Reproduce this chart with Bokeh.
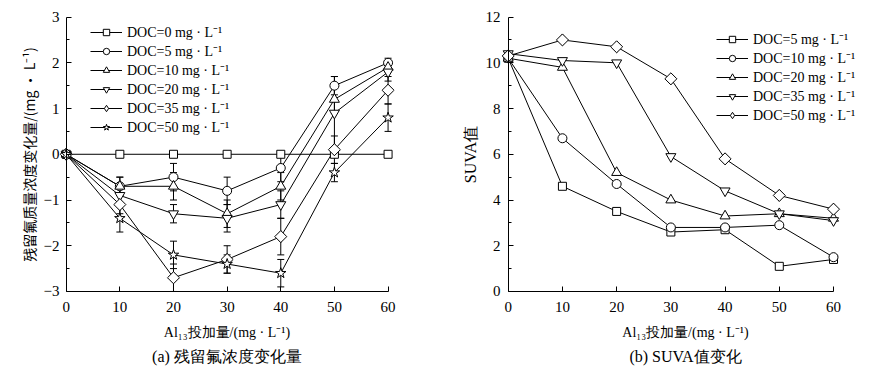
import math
from bokeh.plotting import figure
from bokeh.models import (Range1d, Whisker, ColumnDataSource, Legend, LegendItem,
                          Title, FixedTicker, TeeHead, LinearAxis)
from bokeh.layouts import row
from bokeh.embed import file_html
from bokeh.resources import INLINE

# ---------------- data ----------------
x_dose = [0, 10, 20, 30, 40, 50, 60]

# (a) residual fluoride change
a_labels = ["DOC=0 mg · L⁻¹", "DOC=5 mg · L⁻¹", "DOC=10 mg · L⁻¹",
            "DOC=20 mg · L⁻¹", "DOC=35 mg · L⁻¹", "DOC=50 mg · L⁻¹"]
a_doc0 = [0, 0, 0, 0, 0, 0, 0]
a_doc5 = [0, -0.7, -0.5, -0.8, -0.3, 1.5, 2.0]
a_doc10 = [0, -0.7, -0.7, -1.3, -0.7, 1.2, 1.9]
a_doc20 = [0, -0.9, -1.3, -1.4, -1.1, 0.9, 1.8]
a_doc35 = [0, -1.1, -2.7, -2.3, -1.8, 0.1, 1.4]
a_doc50 = [0, -1.4, -2.2, -2.4, -2.6, -0.4, 0.8]
a_err0 = [0, 0, 0, 0, 0, 0, 0]
a_err5 = [0, 0.2, 0.3, 0.3, 0.3, 0.2, 0.1]
a_err10 = [0, 0.2, 0.3, 0.3, 0.3, 0.3, 0.1]
a_err20 = [0, 0.2, 0.2, 0.3, 0.3, 0.8, 0.2]
a_err35 = [0, 0.2, 0.3, 0.3, 0.4, 0.3, 0.3]
a_err50 = [0, 0.3, 0.3, 0.2, 0.3, 0.2, 0.3]

# (b) SUVA
b_labels = ["DOC=5 mg · L⁻¹", "DOC=10 mg · L⁻¹", "DOC=20 mg · L⁻¹",
            "DOC=35 mg · L⁻¹", "DOC=50 mg · L⁻¹"]
b_doc5 = [10.2, 4.6, 3.5, 2.6, 2.7, 1.1, 1.4]
b_doc10 = [10.2, 6.7, 4.7, 2.8, 2.8, 2.9, 1.5]
b_doc20 = [10.2, 9.8, 5.2, 4.0, 3.3, 3.4, 3.2]
b_doc35 = [10.4, 10.1, 10.0, 5.9, 4.4, 3.4, 3.1]
b_doc50 = [10.3, 11.0, 10.7, 9.3, 5.8, 4.2, 3.6]

a_ticks = [-3, -2, -1, 0, 1, 2, 3]
a_minor = [-2.5, -1.5, -0.5, 0.5, 1.5, 2.5]
b_ticks = [0, 2, 4, 6, 8, 10, 12]
b_minor = [1, 3, 5, 7, 9, 11]

FONT = "Liberation Serif"
CJK = "Noto Sans CJK SC"

markers_a = [("square", 8), ("circle", 9), ("triangle", 10),
             ("inverted_triangle", 10), ("rdiamond", 8.5), ("star", 11)]
markers_b = [("square", 8), ("circle", 9), ("triangle", 10),
             ("inverted_triangle", 10), ("rdiamond", 8.5)]


def minus(v):
    return ("−" + str(abs(v))) if v < 0 else str(v)


def style(p, yticks, yminor, ylabel, ylab_font, ylab_size, ylab_bounds, xlabel,
          caption, ystand, ylabstand):
    p.outline_line_color = None
    p.xgrid.grid_line_color = None
    p.ygrid.grid_line_color = None
    p.background_fill_color = "white"
    p.border_fill_color = "white"
    xa = p.xaxis[0]
    ya = p.yaxis[0]
    # tick-label-only axes at the frame edges
    for ax in (xa, ya):
        ax.axis_line_color = None
        ax.major_tick_line_color = None
        ax.minor_tick_line_color = None
        ax.major_tick_in = 0
        ax.major_tick_out = 0
        ax.minor_tick_in = 0
        ax.minor_tick_out = 0
        ax.major_label_text_font = FONT
        ax.major_label_text_font_size = "15px"
        ax.major_label_text_color = "black"
        ax.axis_label_text_font_style = "normal"
        ax.axis_label_text_color = "black"
    xa.ticker = FixedTicker(ticks=x_dose)
    xa.bounds = (0, 60)
    xa.major_label_standoff = 5
    xa.axis_label = xlabel
    xa.axis_label_text_font = FONT
    xa.axis_label_text_font_size = "14px"
    xa.axis_label_standoff = 10
    ya.ticker = FixedTicker(ticks=yticks)
    ya.bounds = (yticks[0], yticks[-1])
    ya.major_label_standoff = ystand
    ya.major_label_overrides = {t: minus(t) for t in yticks}
    p.add_layout(Title(text=caption, align="center", text_font=FONT,
                       text_font_size="16px", text_font_style="normal",
                       text_color="black", standoff=6), "below")
    # line + tick axes at the true data origin (no labels drawn)
    xl = LinearAxis(ticker=FixedTicker(ticks=x_dose), fixed_location=yticks[0],
                    bounds=(0, 60), major_tick_in=5, major_tick_out=0,
                    minor_tick_line_color=None, major_label_text_color=None,
                    major_label_text_font_size="1px",
                    major_label_standoff=0, axis_line_color="black",
                    major_tick_line_color="black")
    yl = LinearAxis(ticker=FixedTicker(ticks=yticks, minor_ticks=yminor),
                    fixed_location=0, bounds=(yticks[0], yticks[-1]),
                    major_tick_in=5, major_tick_out=0, minor_tick_in=3,
                    minor_tick_out=0, major_label_text_color=None,
                    major_label_text_font_size="1px",
                    major_label_standoff=0, axis_line_color="black",
                    major_tick_line_color="black", minor_tick_line_color="black")
    p.add_layout(xl, "below")
    p.add_layout(yl, "left")
    # y-axis title carried by its own (otherwise empty) axis
    yt = LinearAxis(ticker=FixedTicker(ticks=[]), bounds=ylab_bounds,
                    axis_line_color=None, major_tick_line_color=None,
                    minor_tick_line_color=None, major_tick_in=0, major_tick_out=0,
                    minor_tick_in=0, minor_tick_out=0, major_label_standoff=0,
                    major_label_text_font_size="1px", major_label_text_color=None,
                    axis_label=ylabel, axis_label_text_font=ylab_font,
                    axis_label_text_font_size=ylab_size,
                    axis_label_text_font_style="normal",
                    axis_label_text_color="black",
                    axis_label_standoff=ylabstand)
    p.add_layout(yt, "left")


def draw(p, ys, errs, markers, labels):
    items = []
    if errs is not None:
        for y, e in zip(ys, errs):
            lo = [a - b for a, b in zip(y, e)]
            hi = [a + b for a, b in zip(y, e)]
            src = ColumnDataSource(dict(x=x_dose, lo=lo, hi=hi))
            w = Whisker(base="x", lower="lo", upper="hi", source=src,
                        line_color="black", line_width=1,
                        lower_head=TeeHead(size=7, line_color="black", line_width=1),
                        upper_head=TeeHead(size=7, line_color="black", line_width=1))
            p.add_layout(w)
    lines = []
    for y in ys:
        lines.append(p.line(x_dose, y, line_color="black", line_width=1))
    for y, (m, s), lab, lr in zip(ys, markers, labels, lines):
        if m == "rdiamond":
            # diamond used for the legend key, covered by a rotated square in the plot
            sr = p.scatter(x_dose, y, marker="diamond", size=s * 1.35,
                           fill_color="white", line_color="black", line_width=1)
            p.scatter(x_dose, y, marker="square", size=s, angle=math.pi / 4,
                      fill_color="white", line_color="black", line_width=1)
        else:
            sr = p.scatter(x_dose, y, marker=m, size=s, fill_color="white",
                           line_color="black", line_width=1)
        items.append(LegendItem(label=lab, renderers=[lr, sr]))
    return items


def legend(items, loc):
    return Legend(items=items, location=loc, glyph_width=32,
                  glyph_height=16, label_height=16, spacing=0, padding=0,
                  margin=0, label_standoff=5, border_line_color=None,
                  background_fill_alpha=0, label_text_font=FONT,
                  label_text_font_size="14px", label_text_color="black")


# ---------------- panel (a) ----------------
pa = figure(width=440, height=369, x_range=Range1d(-1.25, 61.2),
            y_range=Range1d(-3.11, 3.10), output_backend="svg",
            toolbar_location=None, min_border_left=59, min_border_right=46,
            min_border_top=12, min_border_bottom=73)
style(pa, a_ticks, a_minor, "残留氟质量浓度变化量/(mg · L⁻¹)", CJK, "14px",
      (-3.33, 2.67), "Al₁₃投加量/(mg · L⁻¹)", "(a) 残留氟浓度变化量", 0, 2)
items_a = draw(pa, [a_doc0, a_doc5, a_doc10, a_doc20, a_doc35, a_doc50],
               [a_err0, a_err5, a_err10, a_err20, a_err35, a_err50],
               markers_a, a_labels)
pa.add_layout(legend(items_a, (31, 160)), "center")

# ---------------- panel (b) ----------------
pb = figure(width=429, height=369, x_range=Range1d(-1.24, 66.64),
            y_range=Range1d(-0.22, 12.2), output_backend="svg",
            toolbar_location=None, min_border_left=61, min_border_right=0,
            min_border_top=12, min_border_bottom=73)
style(pb, b_ticks, b_minor, "SUVA值", FONT, "16px", (0, 12),
      "Al₁₃投加量/(mg · L⁻¹)", "(b) SUVA值变化", 1, 4)
items_b = draw(pb, [b_doc5, b_doc10, b_doc20, b_doc35, b_doc50], None,
               markers_b, b_labels)
pb.add_layout(legend(items_b, (215, 172)), "center")

layout = row(pa, pb, spacing=0)
open("out.html", "w").write(file_html(layout, INLINE))
